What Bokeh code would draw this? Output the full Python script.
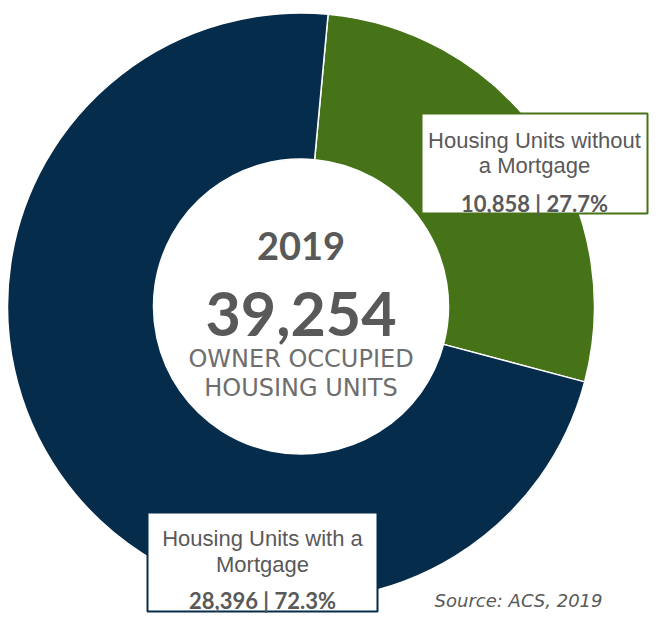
import numpy as np
from bokeh.plotting import figure
from bokeh.core.properties import value
from bokeh.embed import file_html
from bokeh.resources import INLINE

# ---- data ----
categories = ["Housing Units without a Mortgage", "Housing Units with a Mortgage"]
label_lines = [["Housing Units without", "a Mortgage"], ["Housing Units with a", "Mortgage"]]
values = [10858, 28396]
colors = ["#467317", "#062c4c"]
year = "2019"
center_caption = ["OWNER OCCUPIED", "HOUSING UNITS"]
source_note = "Source: ACS, 2019"

total = sum(values)
value_labels = [f"{v:,} | {v / total * 100:.1f}%" for v in values]

# ---- layout helpers (picture pixel -> data units, 1 unit = 1 px) ----
W, H = 649, 616
def X(x):
    return x
def Y(y):
    return H - y

p = figure(width=W, height=H, x_range=(0, W), y_range=(0, H),
           output_backend="svg", toolbar_location=None,
           x_axis_type=None, y_axis_type=None, min_border=0,
           outline_line_color=None, background_fill_color="white",
           border_fill_color="white")
p.grid.visible = False

# ---- donut ----
frac = np.array(values) / total
start = np.deg2rad(84.7)
ends = start - 2 * np.pi * np.cumsum(frac)
starts = np.concatenate([[start], ends[:-1]])
p.annular_wedge(x=X(300.5), y=Y(306), inner_radius=147.5, outer_radius=293.5,
                start_angle=list(starts), end_angle=list(ends), direction="clock",
                fill_color=colors, line_color="white", line_width=1.5)

# ---- center text ----
cx = X(300.5)
p.text(x=[cx], y=[Y(245)], text=[year], text_font=value("Lato"), text_font_style="bold",
       text_font_size="38px", text_color="#595959", text_align="center", text_baseline="alphabetic")
p.text(x=[cx], y=[Y(313)], text=[f"{total:,}"], text_font=value("Lato"), text_font_style="bold",
       text_font_size="61px", text_color="#595959", text_align="center", text_baseline="alphabetic")
p.text(x=[cx, cx], y=[Y(358), Y(387)], text=center_caption, text_font=value("DejaVu Sans"),
       text_font_size="24px", text_color="#6e6e6e", text_align="center", text_baseline="alphabetic")

# ---- label boxes ----
boxes = [(421, 647, 113, 213), (147, 377, 512, 611)]
line_y = [(140, 165, 203), (538, 564, 600)]
for i, (l, r, t, b) in enumerate(boxes):
    p.quad(left=[X(l)], right=[X(r)], top=[Y(t)], bottom=[Y(b)], fill_color="white",
           line_color=colors[i], line_width=2)
    mx = X((l + r) / 2)
    y1, y2, y3 = line_y[i]
    p.text(x=[mx, mx], y=[Y(y1), Y(y2)], text=label_lines[i], text_font=value("Liberation Sans"),
           text_font_size="22px", text_color="#595959", text_align="center", text_baseline="alphabetic")
    p.text(x=[mx], y=[Y(y3)], text=[value_labels[i]], text_font=value("Lato"), text_font_style="bold",
           text_font_size="22px", text_color="#595959", text_align="center", text_baseline="alphabetic")

# ---- source ----
p.text(x=[X(602)], y=[Y(600)], text=[source_note], text_font=value("DejaVu Sans"),
       text_font_style="italic", text_font_size="18px", text_color="#595959",
       text_align="right", text_baseline="alphabetic")

open("out.html", "w").write(file_html(p, INLINE))
